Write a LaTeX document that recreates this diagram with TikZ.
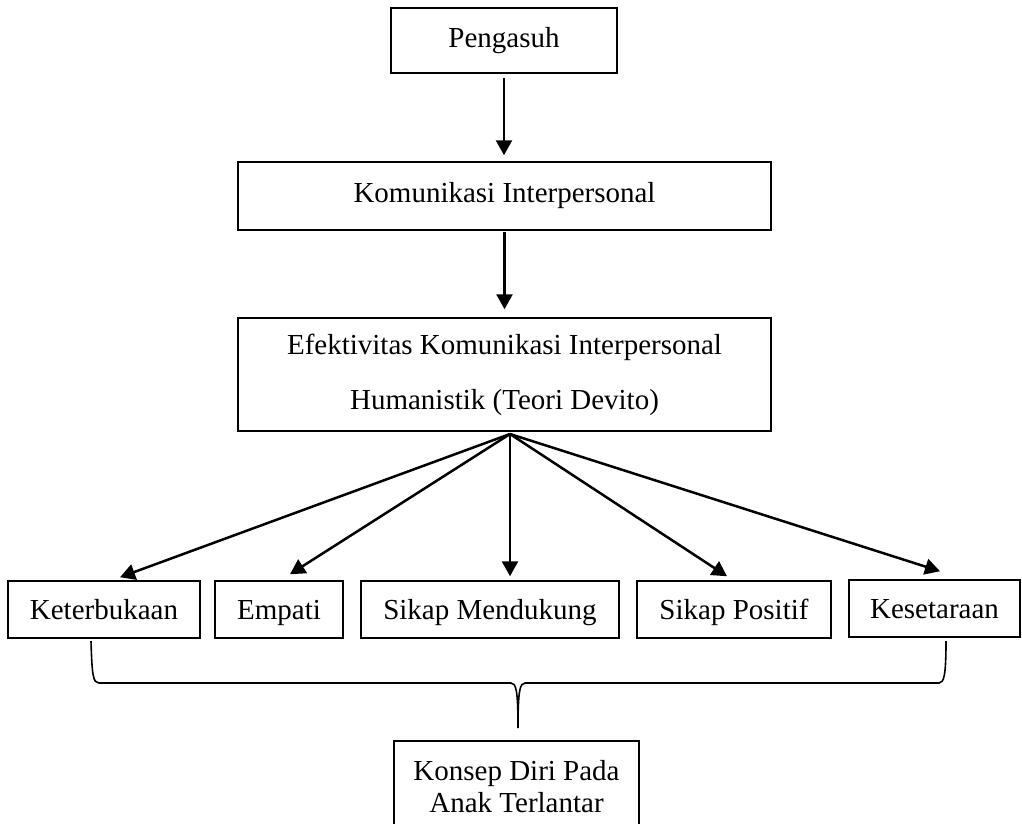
\documentclass[tikz,border=0pt]{standalone}
\usepackage{fontspec}
\setmainfont{Liberation Serif}
\usetikzlibrary{arrows.meta,calc}
\begin{document}
\begin{tikzpicture}[x=1pt,y=-1pt,
  box/.style={draw, line width=1.5pt, inner sep=0pt, align=center,
    font=\fontsize{29}{34}\selectfont},
  onebox/.style={box, text height=19pt, text depth=6pt},
  rowbox/.style={box, text height=21pt, text depth=1pt, minimum height=57pt},
  arr/.style={line width=2.5pt, -{Triangle[length=15pt,width=16pt]}},
  bracepath/.style={line width=1.6pt}]
\fill[white] (0,0) rectangle (1022,823);
\useasboundingbox (0,0) rectangle (1022,823);
\node[onebox, minimum width=226pt, minimum height=65pt] (peng) at (504,40.5) {Pengasuh};
\node[onebox, minimum width=533pt, minimum height=68pt] (kom) at (504.5,196) {Komunikasi Interpersonal};
\node[box, minimum width=533pt, minimum height=113pt, font=\fontsize{29}{55}\selectfont] (efek) at (504.5,374.5)
  {Efektivitas Komunikasi Interpersonal\\Humanistik (Teori Devito)};
\node[rowbox, minimum width=192pt] (ket) at (104,609.5) {Keterbukaan};
\node[rowbox, minimum width=128pt] (emp) at (279,609.5) {Empati};
\node[rowbox, minimum width=258pt] (sm) at (490,609.5) {Sikap Mendukung};
\node[rowbox, minimum width=194pt] (sp) at (734,609.5) {Sikap Positif};
\node[rowbox, minimum width=171pt] (kes) at (934.5,608.5) {Kesetaraan};
\node[box, minimum width=245pt, minimum height=92pt, anchor=north, font=\fontsize{29}{32}\selectfont] (kons) at (516.5,740)
  {Konsep Diri Pada\\Anak Terlantar};
% vertical arrows
\draw[arr, shorten <=4pt, shorten >=6pt] (peng.south) -- (peng.south |- kom.north);
\draw[arr, shorten <=1pt, shorten >=8pt] (kom.south) -- (kom.south |- efek.north);
% fan
\coordinate (fan) at (510,434);
\draw[arr] (fan) -- ([xshift=16pt,yshift=3pt]ket.north);
\draw[arr] (fan) -- ([xshift=11pt,yshift=6pt]emp.north);
\draw[arr] (fan) -- ([xshift=20pt,yshift=4pt]sm.north);
\draw[arr] (fan) -- ([xshift=-7pt,yshift=4pt]sp.north);
\draw[arr] (fan) -- ([xshift=5.5pt,yshift=8pt]kes.north);
% brace
\draw[bracepath] (91,641) .. controls (92,675) and (93,683) .. (99,683) -- (511,683)
  .. controls (516,683) and (518,690) .. (518,728)
  .. controls (518,690) and (520,683) .. (525,683) -- (939,683)
  .. controls (944,683) and (946,675) .. (946,641);
\end{tikzpicture}
\end{document}
